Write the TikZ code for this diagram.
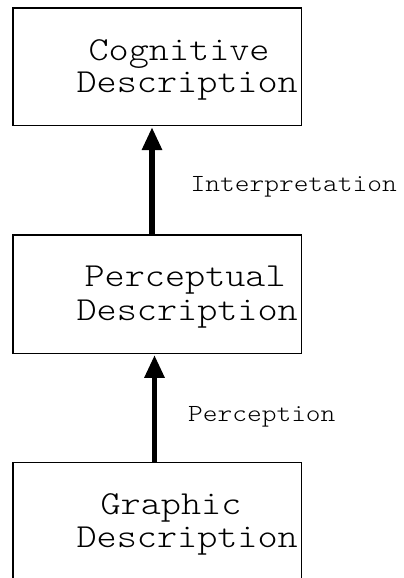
\documentclass[tikz,border=0pt]{standalone}
\usepackage{fontspec}
\setmonofont{lmmonolt10-regular.otf}[FakeStretch=1.14]
\usetikzlibrary{arrows.meta}

\begin{document}
\begin{tikzpicture}[
            x=1pt, y=-1pt,
            descbox/.style={
                rectangle, draw, line width=1.2pt, minimum width=288.5pt, minimum height=118pt, inner sep=0pt
            },
            desctext/.style={
                anchor=base west, inner sep=0pt, font=\ttfamily\fontsize{33.6}{34}\selectfont
            },
            steplabel/.style={
                anchor=base west, inner sep=0pt, font=\ttfamily\fontsize{24.6}{25}\selectfont
            },
            flow/.style={
                line width=5.7pt, -{Triangle[length=23pt,width=19pt]}
            }
        ]
        
        \useasboundingbox (0,0) rectangle (404,578);
        \clip (0,0) rectangle (404,578);
        
        \node[descbox, minimum height=117.5pt] (cog) at (157.25,66.75) {};
        \node[descbox, minimum height=118.3pt] (perc) at (157.25,294.15) {};
        \node[descbox] (graph) at (157.25,521.7) {};
        
        \node[desctext] (cogtop) at ([shift={(76pt,-53pt)}]cog.north west) {Cognitive};
        \node[desctext] (cogbot) at ([shift={(64pt,-85pt)}]cog.north west) {Description};
        \node[desctext] (perctop) at ([shift={(72pt,-52pt)}]perc.north west) {Perceptual};
        \node[desctext] (percbot) at ([shift={(64pt,-86pt)}]perc.north west) {Description};
        \node[desctext] (graphtop) at ([shift={(88pt,-52pt)}]graph.north west) {Graphic};
        \node[desctext] (graphbot) at ([shift={(64pt,-85pt)}]graph.north west) {Description};
        
        \draw[flow] ([xshift=-5.25pt]perc.north) -- ([xshift=-5.25pt,yshift=-1pt]cog.south);
        \draw[flow] ([xshift=-2.75pt]graph.north) -- ([xshift=-2.75pt,yshift=-1pt]perc.south);
        
        \node[steplabel] (interp) at (190.5,191.7) {Interpretation};
        \node[steplabel] (percept) at (188,421) {Perception};
        
    \end{tikzpicture}
\end{document}
